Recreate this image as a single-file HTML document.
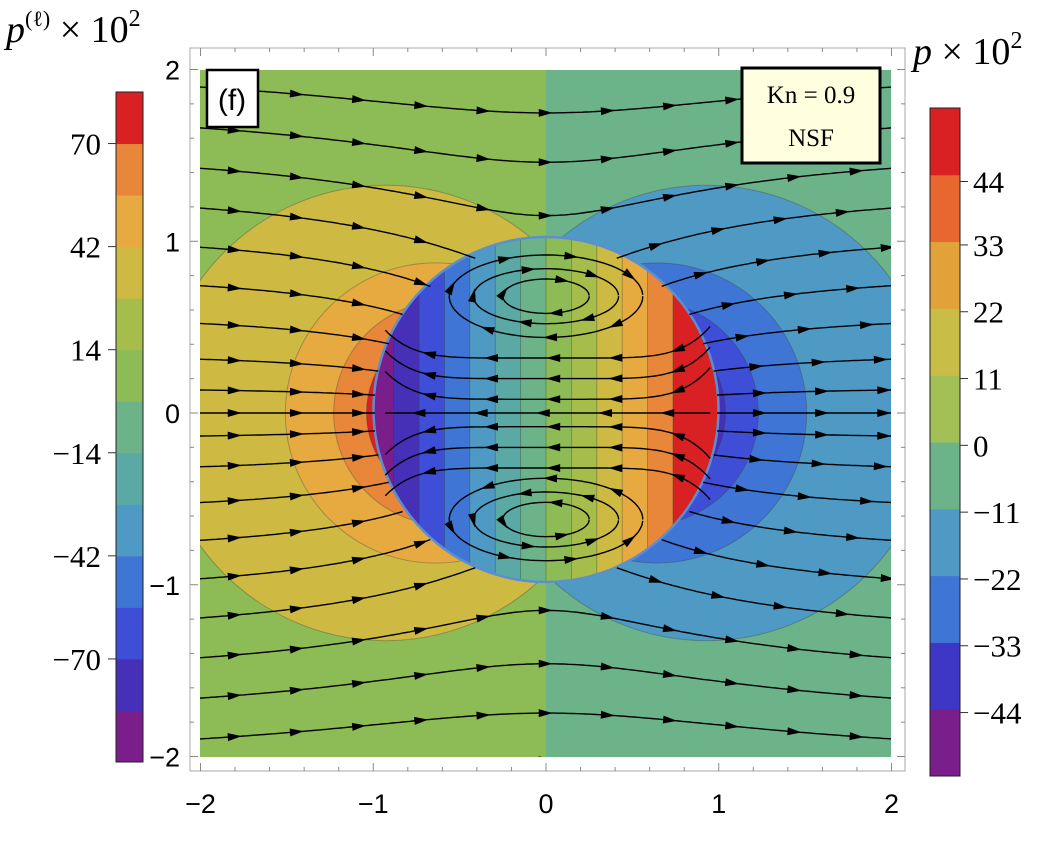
<!DOCTYPE html>
<html><head><meta charset="utf-8">
<style>
body{margin:0;background:#fff;}
svg{display:block;}
.sans{font-family:"Liberation Sans",sans-serif;}
.serif{font-family:"Liberation Serif",serif;}
</style></head>
<body>
<svg id="chart" width="1056" height="867" viewBox="0 0 1056 867">
<defs>
<clipPath id="plotclip"><rect x="200" y="70" width="691" height="687"/></clipPath>
<clipPath id="diskclip"><circle cx="546" cy="409.5" r="172.5"/></clipPath>
</defs>
<g id="field" clip-path="url(#plotclip)"></g>
<g id="streams" clip-path="url(#plotclip)"></g>
<g id="axes"></g>
<g id="cbars"></g>
<rect x="207" y="70" width="51" height="57" fill="#fff" stroke="#000" stroke-width="2.5"/>
<text x="232" y="110" text-anchor="middle" class="sans" font-size="30">(f)</text>
<rect x="742" y="68" width="138" height="95" fill="#ffffe0" stroke="#000" stroke-width="3"/>
<text x="811" y="103" text-anchor="middle" class="serif" font-size="25">Kn = 0.9</text>
<text x="811" y="146" text-anchor="middle" class="serif" font-size="25">NSF</text>
<text x="6" y="42" class="serif" font-size="38"><tspan font-style="italic">p</tspan><tspan font-size="22" dy="-16">(ℓ)</tspan><tspan dy="16"> × 10</tspan><tspan font-size="24" dy="-16">2</tspan></text>
<text x="913" y="64" class="serif" font-size="38"><tspan font-style="italic">p</tspan> × 10<tspan font-size="24" dy="-16">2</tspan></text>
</svg>
<script>
const NS="http://www.w3.org/2000/svg";
// ---- data ----
const levelColors=["#7a1e8c","#4630b8","#3e4ed6","#3f76d5","#4f9ac5","#5aa9a5","#6db38a","#8dbb55","#a6bd4c","#ceba43","#e6aa40","#e8873a","#d92022"];
const leftTicks=[70,42,14,-14,-42,-70];
const leftTickPos=[12,10,8,6,4,2]; // in bin units from bottom
const rightColors=["#7a1e8c","#3e36c4","#3f76d5","#4f9ac5","#6db38a","#a3c057","#c8bd46","#e2a23a","#e8672f","#d92022"];
const rightTicks=[44,33,22,11,0,-11,-22,-33,-44];
const rightTickPos=[8.9,7.95,6.95,5.95,4.95,3.95,2.95,1.95,0.95];
const xTicks=[-2,-1,0,1,2];
const yTicks=[2,1,0,-1,-2];
// outer contour circles: [cx, cy, r, colorIndex]
const leftCircles=[[-0.93,0,1.32,9],[-0.64,0,0.87,10],[-0.58,0,0.65,11],[-0.52,0,0.52,12]];
const rightCircles=[[0.93,0,1.32,4],[0.64,0,0.87,3],[0.58,0,0.65,2],[0.52,0,0.52,1]];
const bandWidth=0.147;
const streamC=[0,0.15,-0.15,0.35,-0.35,0.58,-0.58,0.82,-0.82,1.06,-1.06,1.3,-1.3,1.54,-1.54,1.78,-1.78,2.02,-2.02,2.26,-2.26];
const vortexRx=[0.25,0.42,0.56];
const vortexRy=[0.1,0.16,0.24];
const vortexCy=[0.68,-0.62];
const innerLines=[0,0.08,-0.08,0.2,-0.2,0.32,-0.32];
// ---- scales ----
const X=x=>546+x*172.75, Y=y=>413-y*171.75;
function el(t,a,p){const e=document.createElementNS(NS,t);for(const k in a)e.setAttribute(k,a[k]);(p||document.getElementById('chart')).appendChild(e);return e;}
const field=document.getElementById('field');
let r=el('rect',{x:200,y:70,width:346,height:687,fill:levelColors[7]},field);


r=el('rect',{x:546,y:70,width:345,height:687,fill:levelColors[6]},field);


leftCircles.concat(rightCircles).forEach((c,i)=>{
 const e=el('circle',{cx:X(c[0]),cy:Y(c[1]),r:c[2]*172.5,fill:levelColors[c[3]],stroke:"rgba(60,60,60,0.35)","stroke-width":1},field);
 
 
});
const disk=el('g',{'clip-path':'url(#diskclip)'},field);


for(let k=-7;k<=5;k++){
 const idx=Math.min(12,Math.max(0,k+7));
 const x0=k*bandWidth, x1=(k===5)?1.2:(k+1)*bandWidth;
 const b=el('rect',{x:X(x0),y:Y(1.1),width:X(x1)-X(x0)+0.5,height:Y(-1.1)-Y(1.1),fill:levelColors[idx],stroke:"rgba(40,60,40,0.4)","stroke-width":0.8},disk);
 
 
}
const ring=el('circle',{cx:546,cy:409.5,r:172.5,fill:"none",stroke:"#5b8fd0","stroke-width":2.5},field);


// ---- streamlines ----
const streams=document.getElementById('streams');
function drawPath(pts,name){
 const d=pts.map((p,i)=>(i?'L':'M')+p[0].toFixed(1)+' '+p[1].toFixed(1)).join('');
 const e=el('path',{d:d,fill:'none',stroke:'#000','stroke-width':1.4},streams);
 
 
 let acc=20;
 for(let i=1;i<pts.length;i++){
  const dx=pts[i][0]-pts[i-1][0],dy=pts[i][1]-pts[i-1][1],L=Math.hypot(dx,dy);acc+=L;
  if(acc>=62&&L>0){acc=0;const a=Math.atan2(dy,dx)*180/Math.PI;
   const ar=el('polygon',{points:'5,0 -9,-4 -9,4',fill:'#000',transform:`translate(${pts[i][0]},${pts[i][1]}) rotate(${a})`},streams);
   
   }
 }
}
streamC.forEach(c=>{
 let segs=[],cur=[];
 for(let x=-2.05;x<=2.05;x+=0.02){
  let y=c;
  for(let it=0;it<80;it++){y=c/(1+0.5/(x*x+y*y+0.15));}
  if(x*x+y*y<0.98){if(cur.length>1)segs.push(cur);cur=[];}
  else cur.push([X(x),Y(y)]);
 }
 if(cur.length>1)segs.push(cur);
 segs.forEach(s=>drawPath(s,'outer-streamline'));
});
vortexCy.forEach(cy=>{
 vortexRx.forEach((rx,i)=>{
  const ry=vortexRy[i],pts=[];
  for(let t=0;t<=2*Math.PI+0.01;t+=0.05){
   const dir=cy>0?-1:1;
   pts.push([X(rx*Math.cos(dir*t)),Y(cy+ry*Math.sin(dir*t))]);
  }
  drawPath(pts,'vortex-streamline');
 });
});
innerLines.forEach(y0=>{
 const pts=[];
 for(let x=0.95;x>=-0.95;x-=0.02){
  const bend=y0===0?0:Math.sign(y0)*0.25*Math.pow(Math.abs(x),6);
  pts.push([X(x),Y(y0+bend)]);
 }
 drawPath(pts,'inner-streamline');
});
// ---- axes ----
const axes=document.getElementById('axes');
let fr=el('rect',{x:190,y:48,width:715,height:723,fill:'none',stroke:'#aaa','stroke-width':1},axes);


for(let v=-2;v<=2.001;v+=0.2){
 const big=Math.abs(v-Math.round(v))<1e-6;const L=big?8:4;
 el('line',{x1:X(v),x2:X(v),y1:771,y2:771-L,stroke:'#888'},axes);
 el('line',{x1:X(v),x2:X(v),y1:48,y2:48+L,stroke:'#888'},axes);
 el('line',{x1:190,x2:190+L,y1:Y(v),y2:Y(v),stroke:'#888'},axes);
 el('line',{x1:905,x2:905-L,y1:Y(v),y2:Y(v),stroke:'#888'},axes);
}
xTicks.forEach(v=>{const t=el('text',{x:X(v),y:813,'text-anchor':'middle','font-size':27,class:'sans'},axes);t.textContent=v<0?'−'+(-v):v;
 });
yTicks.forEach(v=>{const t=el('text',{x:180,y:Y(v)+10,'text-anchor':'end','font-size':27,class:'sans'},axes);t.textContent=v<0?'−'+(-v):v;
 });
// ---- colorbars ----
const cb=document.getElementById('cbars');
const lTop=92,lBot=762,lH=(lBot-lTop)/levelColors.length;
levelColors.forEach((c,i)=>{const e=el('rect',{x:116,y:lBot-(i+1)*lH,width:27,height:lH+0.5,fill:c},cb);
 });
el('rect',{x:116,y:lTop,width:27,height:lBot-lTop,fill:'none',stroke:'#222','stroke-width':1},cb);
leftTicks.forEach((v,i)=>{const y=lBot-leftTickPos[i]*lH;
 el('line',{x1:108,x2:116,y1:y,y2:y,stroke:'#333'},cb);
 const t=el('text',{x:101,y:y+11,'text-anchor':'end','font-size':31,class:'serif'},cb);t.textContent=v<0?'−'+(-v):v;
 });
const rTop=108,rBot=776,rH=(rBot-rTop)/rightColors.length;
rightColors.forEach((c,i)=>{const e=el('rect',{x:930,y:rBot-(i+1)*rH,width:30,height:rH+0.5,fill:c},cb);
 });
el('rect',{x:930,y:rTop,width:30,height:rBot-rTop,fill:'none',stroke:'#222','stroke-width':1},cb);
rightTicks.forEach((v,i)=>{const y=rBot-rightTickPos[i]*rH;
 el('line',{x1:960,x2:968,y1:y,y2:y,stroke:'#333'},cb);
 const t=el('text',{x:973,y:y+11,'text-anchor':'start','font-size':31,class:'serif'},cb);t.textContent=v<0?'−'+(-v):v;
 });
</script>
</body></html>
